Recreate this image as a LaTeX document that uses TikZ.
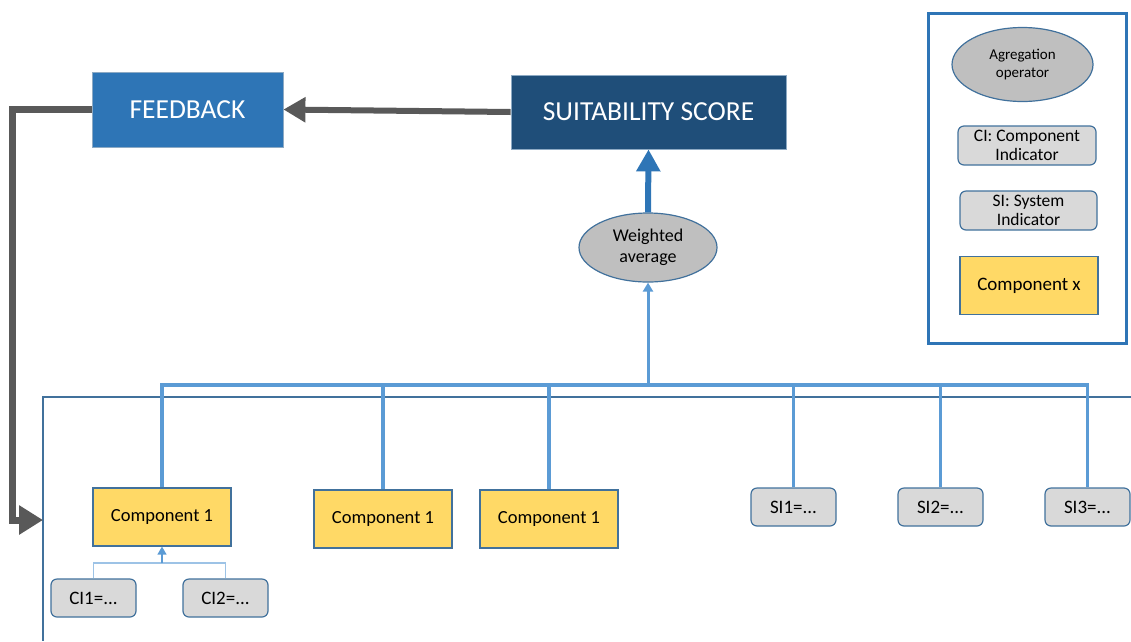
\documentclass[tikz,border=0pt]{standalone}
\usepackage{fontspec}
\setmainfont{Carlito}
\usetikzlibrary{shapes.geometric,arrows.meta}
\definecolor{fbblue}{HTML}{2E75B6}
\definecolor{ssblue}{HTML}{1F4E79}
\definecolor{edgeblue}{HTML}{41719C}
\definecolor{busblue}{HTML}{5B9BD5}
\definecolor{liteblue}{HTML}{9DC3E6}
\definecolor{dgray}{HTML}{595959}
\definecolor{ellgray}{HTML}{BFBFBF}
\definecolor{boxgray}{HTML}{D9D9D9}
\definecolor{compyel}{HTML}{FFD966}
\tikzset{
  x=1pt,y=-1pt,
  hdr/.style={draw=edgeblue!60,line width=0.8pt,text=white,font=\fontsize{27.5}{32}\selectfont,inner sep=0pt},
  comp/.style={draw=edgeblue,line width=1.2pt,fill=compyel,minimum width=138pt,minimum height=58pt,inner sep=0pt,font=\fontsize{18.5}{22}\selectfont},
  ind/.style={draw=edgeblue,line width=1.2pt,fill=boxgray,rounded corners=6pt,minimum width=85pt,minimum height=38pt,inner sep=0pt,font=\fontsize{19}{22}\selectfont},
  oper/.style={ellipse,draw=edgeblue,line width=1.2pt,fill=ellgray,inner sep=0pt,align=center},
  bus/.style={busblue,line width=3.5pt},
}
\begin{document}
\begin{tikzpicture}
\useasboundingbox (0,0) rectangle (1131,641);
% nodes
\node[hdr,fill=fbblue,minimum width=191pt,minimum height=75pt] (fb) at (187.5,109.5) {FEEDBACK};
\node[hdr,fill=ssblue,minimum width=275pt,minimum height=74pt] (ss) at (648.5,112) {SUITABILITY SCORE};
\node[oper,minimum width=138pt,minimum height=69pt,font=\fontsize{18}{20.5}\selectfont] (wa) at (648,247.5) {Weighted\\average};
\node[comp] (c1) at (162,517) {Component 1};
\node[comp] (c2) at (383,519) {Component 1};
\node[comp] (c3) at (549,519) {Component 1};
\node[ind] (si1) at (793.5,507) {SI1=...};
\node[ind] (si2) at (940.5,507) {SI2=...};
\node[ind] (si3) at (1087.5,507) {SI3=...};
\node[ind] (ci1) at (93.5,598) {CI1=...};
\node[ind] (ci2) at (225.5,598) {CI2=...};
% frame of system
\coordinate (frTL) at (43,397);
\coordinate (frR) at (1131,397);
\coordinate (frB) at (43,641);
\draw[edgeblue,line width=1.2pt] (frR) -- (frTL) -- (frB);
% legend
\node[draw=fbblue,line width=2.2pt,minimum width=198pt,minimum height=330pt,inner sep=0pt] (leg) at (1027.5,178.5) {};
\node[oper,minimum width=141pt,minimum height=74pt,font=\fontsize{15}{18}\selectfont] (lop) at (1022.5,64.5) {Agregation\\operator};
\node[ind,minimum width=138pt,minimum height=39pt,align=center,font=\fontsize{17.5}{19.5}\selectfont] (lci) at (1027,145.5) {CI: Component\\Indicator};
\node[ind,minimum width=137pt,minimum height=39pt,align=center,font=\fontsize{17.5}{19.5}\selectfont] (lsi) at (1028.5,210.5) {SI: System\\Indicator};
\node[comp,font=\fontsize{19}{22}\selectfont] (lcx) at (1029,285.5) {Component x};
% bus
\coordinate (busL) at (162,385);
\coordinate (busR) at (1087.5,385);
\coordinate (busM) at (648,385);
\draw[bus] (c1.north) -- (busL) -- (busR) -- (si3.north);
\draw[bus] (c2.north) -- (c2.north |- busL);
\draw[bus] (c3.north) -- (c3.north |- busL);
\draw[bus] (si1.north) -- (si1.north |- busL);
\draw[bus] (si2.north) -- (si2.north |- busL);
\draw[busblue,line width=3pt,-{Triangle[length=9pt,width=10pt]}] (busM) -- (wa.south);
% weighted average to score
\draw[fbblue,line width=6pt,-{Triangle[length=22pt,width=23pt]}] (wa.north) -- (ss.south);
% score to feedback
\draw[dgray,line width=6pt,-{Triangle[length=22pt,width=24pt]}] (ss.west) -- (fb.east);
% feedback loop
\coordinate (fbL) at (12,109.5);
\coordinate (fbD) at (12,520);
\coordinate (frIn) at (43,520);
\draw[dgray,line width=7pt,-{Triangle[length=24pt,width=28pt]}] (fb.west) -- (fbL) -- (fbD) -- (frIn);
% CI connectors
\coordinate (ciJ) at (162,563);
\draw[liteblue,line width=1.3pt] (ci1.north) -- (ci1.north |- ciJ) -- (ci2.north |- ciJ) -- (ci2.north);
\draw[busblue,line width=1.3pt,-{Triangle[length=8pt,width=9pt]}] (ciJ) -- (c1.south);
\end{tikzpicture}
\end{document}
